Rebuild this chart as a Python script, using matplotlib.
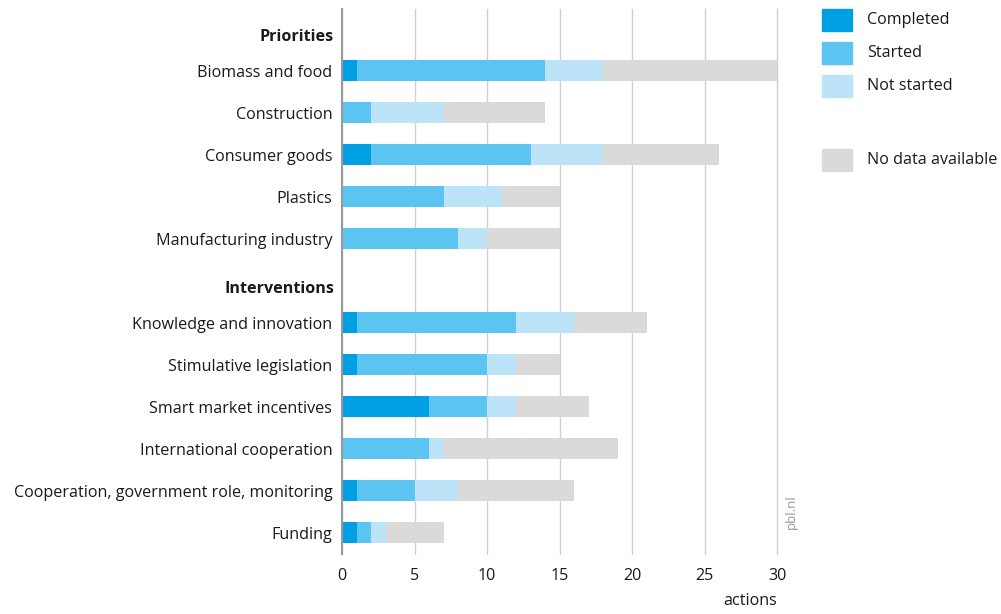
import matplotlib.pyplot as plt
from matplotlib.patches import Rectangle
import numpy as np

# --- data ---
priorities = ['Biomass and food', 'Construction', 'Consumer goods',
              'Plastics', 'Manufacturing industry']
interventions = ['Knowledge and innovation', 'Stimulative legislation',
                 'Smart market incentives', 'International cooperation',
                 'Cooperation, government role, monitoring', 'Funding']

completed = [1, 0, 2, 0, 0, 1, 1, 6, 0, 1, 1]
started = [13, 2, 11, 7, 8, 11, 9, 4, 6, 4, 1]
not_started = [4, 5, 5, 4, 2, 4, 2, 2, 1, 3, 1]
no_data = [12, 7, 8, 4, 5, 5, 3, 5, 12, 8, 4]

series_labels = ['Completed', 'Started', 'Not started', 'No data available']
colors = ['#009FE3', '#5BC4F1', '#BDE3F8', '#DADAD9']
x_ticks = [0, 5, 10, 15, 20, 25, 30]

plt.rcParams['font.family'] = ['Open Sans', 'DejaVu Sans']
FS = 11.6

fig = plt.figure(figsize=(10.01, 6.14), dpi=100)
ax = fig.add_axes([342 / 1001, 1 - 554 / 614, 435 / 1001, 545 / 614])

# row positions: priorities 0..4, gap, interventions 6..11
labels = priorities + interventions
ypos = np.r_[np.arange(len(priorities)), np.arange(len(interventions)) + len(priorities) + 1]

left = np.zeros(len(labels))
for vals, col in zip([completed, started, not_started, no_data], colors):
    ax.barh(ypos, vals, left=left, height=0.5, color=col, zorder=2)
    left += np.array(vals)

ax.set_xlim(0, 30)
ax.set_ylim(11.5, -1.47)
ax.set_xticks(x_ticks)
ax.set_yticks(ypos)
ax.set_yticklabels(labels, fontsize=FS, color='#1a1a1a')
ax.tick_params(axis='y', length=0, pad=7)
ax.tick_params(axis='x', length=0, pad=10, labelsize=FS, labelcolor='#1a1a1a')
ax.grid(axis='x', color='#d0d0d0', linewidth=1.0, zorder=0)
for gl in ax.get_xgridlines():
    gl.set_clip_on(False)
for s in ['top', 'right', 'bottom']:
    ax.spines[s].set_visible(False)
ax.spines['left'].set_color('#999999')
ax.spines['left'].set_linewidth(1.5)
ax.spines['left'].set_zorder(3)

# group headers
for txt, y in [('Priorities', -0.8), ('Interventions', len(priorities) + 0.2)]:
    ax.text(-0.55, y, txt, ha='right', va='center', fontsize=FS,
            fontweight='bold', color='#1a1a1a')

fig.text(777 / 1001, 1 - 601 / 614, 'actions', ha='right', va='center',
         fontsize=FS, color='#1a1a1a')
ax.text(31.0, 10.9, 'pbl.nl', rotation=90, ha='center', va='bottom',
        fontsize=9.5, color='#999999')

# legend
leg_y = [20, 53, 86, 160]
for lab, col, yy in zip(series_labels, colors, leg_y):
    fig.add_artist(Rectangle((822 / 1001, 1 - (yy + 11) / 614), 30 / 1001, 22 / 614,
                             transform=fig.transFigure, color=col))
    fig.text(867 / 1001, 1 - yy / 614, lab, ha='left', va='center',
             fontsize=FS, color='#1a1a1a')

fig.savefig('out.png', dpi=100)
